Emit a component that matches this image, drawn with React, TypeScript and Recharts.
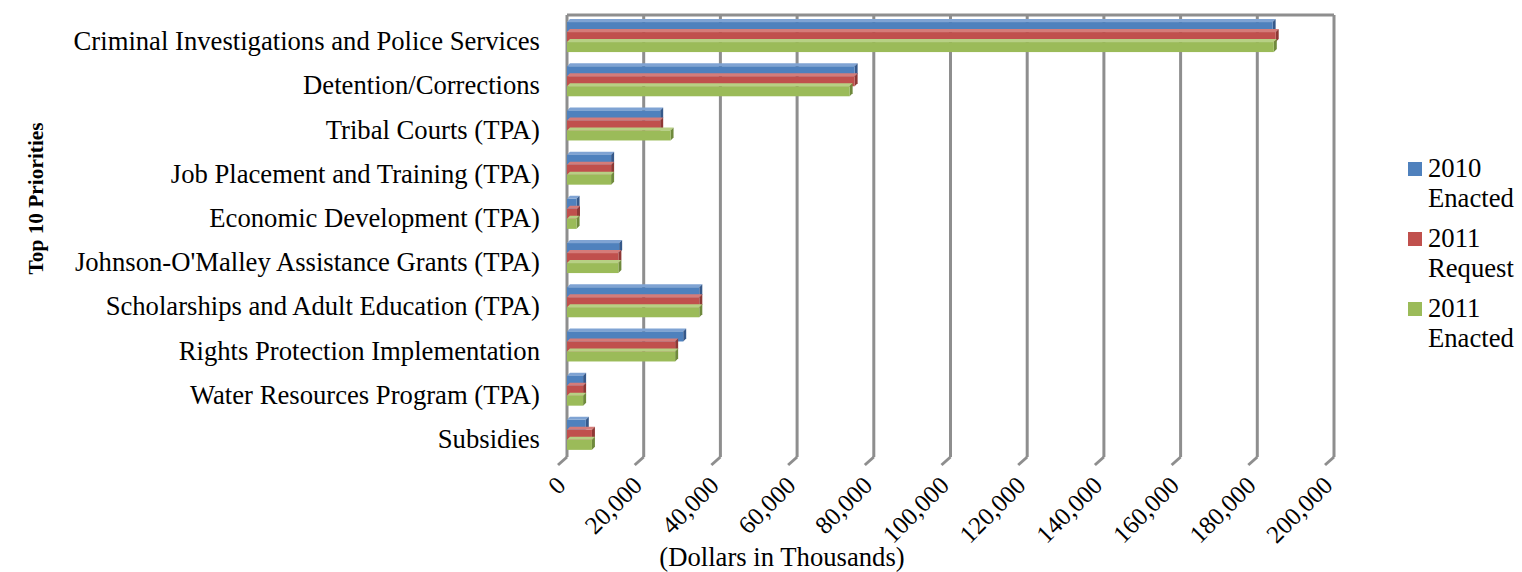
import React from 'react';
import { BarChart, Bar, XAxis, YAxis, CartesianGrid, Legend, Label } from 'recharts';

const CATEGORIES = [
  'Criminal Investigations and Police Services',
  'Detention/Corrections',
  'Tribal Courts (TPA)',
  'Job Placement and Training (TPA)',
  'Economic Development (TPA)',
  "Johnson-O'Malley Assistance Grants (TPA)",
  'Scholarships and Adult Education (TPA)',
  'Rights Protection Implementation',
  'Water Resources Program (TPA)',
  'Subsidies',
];
const ENACTED_2010 = [184000, 75000, 24300, 11500, 2500, 13600, 34500, 30300, 4200, 4900];
const REQUEST_2011 = [184800, 75000, 24300, 11500, 2600, 13400, 34500, 28200, 4200, 6500];
const ENACTED_2011 = [184300, 73700, 27000, 11500, 2500, 13400, 34500, 28200, 4200, 6500];
const X_TICKS = [0, 20000, 40000, 60000, 80000, 100000, 120000, 140000, 160000, 180000, 200000];
const SERIES_NAMES = ['2010 Enacted', '2011 Request', '2011 Enacted'];
const X_TITLE = '(Dollars in Thousands)';
const Y_TITLE = 'Top 10 Priorities';

const FONT = '"Liberation Serif", "Times New Roman", serif';
const GRID = '#8e8e8e';
const FS = 26.67;
const FS_TICK = 25;
const FS_TITLE = 21.33;

const SERIES = [
  { key: 'e2010', name: SERIES_NAMES[0], color: '#4F81BD', side: '#36598A', top: '#7FA3D3' },
  { key: 'r2011', name: SERIES_NAMES[1], color: '#C0504D', side: '#8E3835', top: '#D57C79' },
  { key: 'e2011', name: SERIES_NAMES[2], color: '#9BBB59', side: '#6F8A3C', top: '#B7D084' },
];

const data = CATEGORIES.map((name, i) => ({
  name,
  e2010: ENACTED_2010[i],
  r2011: REQUEST_2011[i],
  e2011: ENACTED_2011[i],
}));

const D = 3;

function Bar3D(props: any) {
  const { x, y, width, height, fill, side, top } = props;
  if (width == null || height == null) return null;
  return (
    <g>
      <polygon
        points={`${x},${y} ${x + D},${y - D} ${x + width + D},${y - D} ${x + width},${y}`}
        fill={top}
      />
      <polygon
        points={`${x + width},${y} ${x + width + D},${y - D} ${x + width + D},${y + height - D} ${x + width},${y + height}`}
        fill={side}
      />
      <rect x={x} y={y} width={width} height={height} fill={fill} />
    </g>
  );
}

function YTick(props: any) {
  const { x, y, payload } = props;
  return (
    <text x={x} y={y + 13} textAnchor="end" fontSize={FS} fontFamily={FONT} fill="#000">
      {payload.value}
    </text>
  );
}

function XTick(props: any) {
  const { x, y, payload } = props;
  const lx = x;
  const ly = y + 30;
  return (
    <g>
      <line x1={x} y1={y} x2={x - 9} y2={y + 8} stroke={GRID} strokeWidth={3} />
      <text
        x={lx}
        y={ly}
        textAnchor="end"
        fontSize={FS_TICK}
        fontFamily={FONT}
        fill="#000"
        transform={`rotate(-45, ${lx}, ${ly})`}
      >
        {Number(payload.value).toLocaleString('en-US')}
      </text>
    </g>
  );
}

function XTitle(props: any) {
  const vb = props.viewBox || {};
  return (
    <text x={vb.x + 215} y={vb.y + 109} textAnchor="middle" fontSize={FS} fontFamily={FONT} fill="#000">
      {X_TITLE}
    </text>
  );
}

function YTitle(props: any) {
  const vb = props.viewBox || {};
  const cx = vb.x + 43;
  const cy = vb.y + vb.height * 0.415;
  return (
    <text
      x={cx}
      y={cy}
      textAnchor="middle"
      fontSize={FS_TITLE}
      fontWeight="bold"
      fontFamily={FONT}
      fill="#000"
      transform={`rotate(-90, ${cx}, ${cy})`}
    >
      {Y_TITLE}
    </text>
  );
}

function LegendContent() {
  return (
    <div style={{ fontFamily: FONT, fontSize: FS, lineHeight: '30px', color: '#000' }}>
      {SERIES.map((s, i) => {
        const parts = s.name.split(' ');
        return (
          <div key={s.key} style={{ display: 'flex', alignItems: 'flex-start', marginBottom: i < SERIES.length - 1 ? 10 : 0 }}>
            <div style={{ width: 14, height: 14, background: s.color, marginTop: 9, marginRight: 6, flex: 'none' }} />
            <div>
              <div>{parts[0]}</div>
              <div>{parts[1]}</div>
            </div>
          </div>
        );
      })}
    </div>
  );
}

export default function App() {
  return (
    <div style={{ position: 'absolute', left: 0, top: 0 }}>
      <BarChart
        width={1522}
        height={572}
        data={data}
        layout="vertical"
        margin={{ top: 14, right: 188, bottom: 0, left: 0 }}
        barCategoryGap="16%"
        barGap={0}
      >
        <CartesianGrid horizontal={false} vertical stroke={GRID} strokeWidth={3} />
        <XAxis
          type="number"
          domain={[0, 200000]}
          ticks={X_TICKS}
          interval={0}
          axisLine={false}
          tickLine={false}
          tickSize={0}
          tickMargin={0}
          height={115}
          tick={<XTick />}
        >
          <Label content={<XTitle />} />
        </XAxis>
        <XAxis
          xAxisId="top"
          orientation="top"
          type="number"
          domain={[0, 200000]}
          ticks={X_TICKS}
          interval={0}
          height={1}
          axisLine={{ stroke: GRID, strokeWidth: 3 }}
          tickLine={{ stroke: GRID, strokeWidth: 3 }}
          tickSize={8}
          tick={<g />}
        />
        <YAxis
          type="category"
          dataKey="name"
          width={567}
          axisLine={false}
          tickLine={false}
          tickSize={0}
          tickMargin={27}
          interval={0}
          tick={<YTick />}
        >
          <Label content={<YTitle />} />
        </YAxis>
        <Legend
          layout="vertical"
          align="center"
          verticalAlign="middle"
          content={<LegendContent />}
          wrapperStyle={{ left: 1408, top: 153, width: 120 }}
        />
        {SERIES.map((s) => (
          <Bar
            key={s.key}
            dataKey={s.key}
            name={s.name}
            fill={s.color}
            isAnimationActive={false}
            shape={(p: any) => <Bar3D {...p} fill={s.color} side={s.side} top={s.top} />}
          />
        ))}
      </BarChart>
    </div>
  );
}
